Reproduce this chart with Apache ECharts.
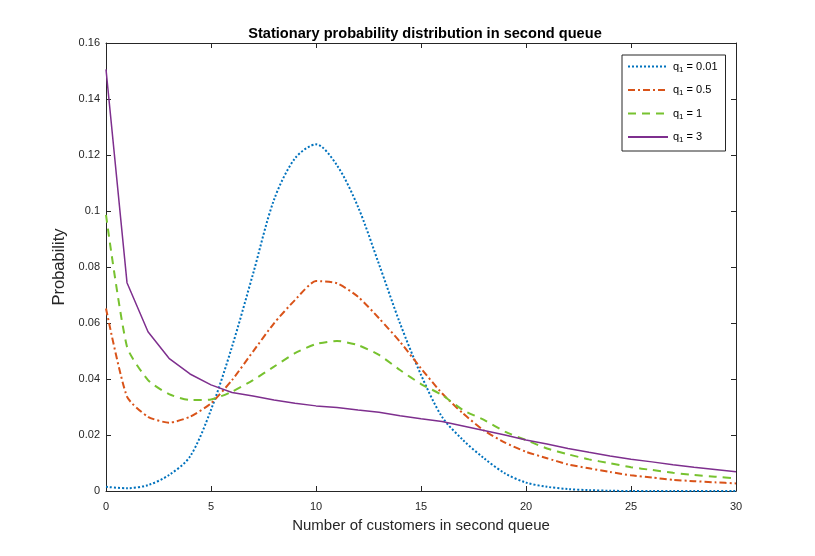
<!DOCTYPE html>
<html>
<head>
<meta charset="utf-8">
<title>ECharts</title>
<script src="https://cdn.jsdelivr.net/npm/echarts@6/dist/echarts.min.js"></script>
</head>
<body style="margin:0;background:#fff;">
<div id="main" style="width:815px;height:556px;"></div>
<script type="text/javascript">
var customers = [];
for (var i = 0; i <= 30; i++) customers.push(i);

var q001 = [0.0015, 0.0010, 0.0021, 0.0057, 0.0123, 0.0290, 0.0515, 0.0775, 0.1040, 0.1188, 0.1238,
            0.1163, 0.1015, 0.0810, 0.0599, 0.0415, 0.0265, 0.0182, 0.0117, 0.0063, 0.0030,
            0.0015, 0.0007, 0.0003, 0.0001, 0, 0, 0, 0, 0, 0];
var q05 = [0.0652, 0.0337, 0.0265, 0.0244, 0.0265, 0.0313, 0.0396, 0.0498, 0.0599, 0.0682, 0.0750,
           0.0742, 0.0694, 0.0617, 0.0533, 0.0438, 0.0349, 0.0277, 0.0216, 0.0173, 0.0140,
           0.0117, 0.0095, 0.0081, 0.0068, 0.0056, 0.0048, 0.0040, 0.0035, 0.0031, 0.0027];
var q1 = [0.0986, 0.0515, 0.0396, 0.0346, 0.0325, 0.0327, 0.0355, 0.0396, 0.0444, 0.0492, 0.0525,
          0.0536, 0.0521, 0.0486, 0.0432, 0.0382, 0.0343, 0.0289, 0.0254, 0.0212, 0.0182,
          0.0152, 0.0131, 0.0113, 0.0099, 0.0085, 0.0075, 0.0065, 0.0057, 0.0051, 0.0045];
var q3 = [0.1506, 0.0744, 0.0569, 0.0474, 0.0418, 0.0379, 0.0352, 0.0339, 0.0325, 0.0313, 0.0304,
          0.0298, 0.0289, 0.0281, 0.0269, 0.0258, 0.0248, 0.0232, 0.0216, 0.0200, 0.0182,
          0.0168, 0.0152, 0.0138, 0.0125, 0.0113, 0.0104, 0.0094, 0.0085, 0.0077, 0.0069];

var seriesNames = ['0.01', '0.5', '1', '3'];

function pairs(ys) {
    return customers.map(function (x, k) { return [x, ys[k]]; });
}

var myChart = echarts.init(document.getElementById('main'));
var font = 'Liberation Sans, Arial, sans-serif';
var axisBase = {
    axisLine: { show: true, onZero: false, lineStyle: { color: '#262626', width: 1 } },
    axisTick: { show: true, inside: true, length: 5, lineStyle: { color: '#262626' } },
    splitLine: { show: false }
};

function mk(name, data, color, type, width, smooth) {
    return {
        name: name,
        type: 'line',
        data: pairs(data),
        showSymbol: false,
        symbol: 'none',
        smooth: smooth,
        lineStyle: { color: color, type: type, width: width },
        itemStyle: { color: color }
    };
}

var option = {
    backgroundColor: '#fff',
    animation: false,
    textStyle: { fontFamily: font },
    title: {
        text: 'Stationary probability distribution in second queue',
        left: 420, top: 21, textAlign: 'center',
        textStyle: { fontSize: 14.6, fontWeight: 'bold', color: '#000', fontFamily: font }
    },
    legend: {
        orient: 'vertical',
        left: 622, top: 55,
        width: 102,
        padding: [6, 8, 7, 5],
        itemGap: 11,
        itemWidth: 40, itemHeight: 12,
        backgroundColor: '#fff',
        borderColor: '#262626', borderWidth: 1,
        itemStyle: { opacity: 0 },
        data: seriesNames.map(function (n) { return 'q' + n; }),
        formatter: function (n) {
            return '{a|q}{s|1}{a| = ' + n.substring(1) + '}';
        },
        textStyle: {
            rich: {
                a: { fontSize: 11, color: '#000', fontFamily: font },
                s: { fontSize: 8, color: '#000', fontFamily: font, padding: [6, 0, 0, 0] }
            }
        }
    },
    grid: { left: 106, right: 79, top: 43, bottom: 65 },
    xAxis: [Object.assign({}, axisBase, {
        type: 'value', min: 0, max: 30, interval: 5,
        position: 'bottom',
        name: 'Number of customers in second queue',
        nameLocation: 'middle', nameGap: 27,
        nameTextStyle: { fontSize: 15, color: '#262626' },
        axisLabel: { fontSize: 11, color: '#262626', margin: 10 }
    }), Object.assign({}, axisBase, {
        type: 'value', min: 0, max: 30, interval: 5,
        position: 'top',
        axisLabel: { show: false }
    })],
    yAxis: [Object.assign({}, axisBase, {
        type: 'value', min: 0, max: 0.16, interval: 0.02,
        position: 'left',
        name: 'Probability',
        nameLocation: 'middle', nameGap: 32,
        nameTextStyle: { fontSize: 16.5, color: '#262626' },
        axisLabel: { fontSize: 11, color: '#262626', margin: 6,
            formatter: function (v) { return String(+v.toFixed(2)); } }
    }), Object.assign({}, axisBase, {
        type: 'value', min: 0, max: 0.16, interval: 0.02,
        position: 'right',
        axisLabel: { show: false }
    })],
    series: [
        mk('q' + seriesNames[0], q001, '#0072BD', [2, 2], 2, 0.3),
        mk('q' + seriesNames[1], q05, '#D95319', [7, 3, 2, 3], 2, 0.2),
        mk('q' + seriesNames[2], q1, '#77C22F', [8, 6], 2, 0.2),
        mk('q' + seriesNames[3], q3, '#7E2F8E', 'solid', 1.5, false)
    ]
};

myChart.setOption(option);
</script>
</body>
</html>
